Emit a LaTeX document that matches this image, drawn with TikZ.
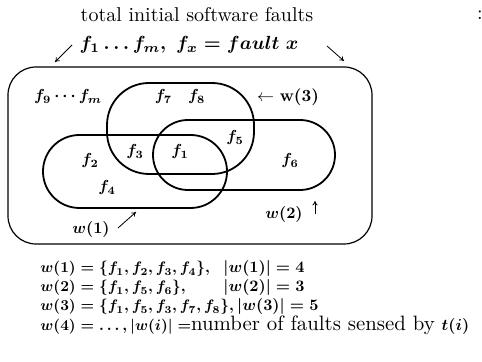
\documentclass[tikz,border=0pt]{standalone}
\usetikzlibrary{arrows.meta}
\newcommand\mth[1]{\scalebox{0.8}{\boldmath$#1$}}
\newcommand\meq[1]{\scalebox{0.76}{\boldmath$#1$}}
\newcommand\mthbig[1]{\scalebox{0.95}{\boldmath$#1$}}
\begin{document}
\begin{tikzpicture}[x=0.5pt,y=-0.5pt,
  every node/.style={inner sep=0pt},
  setline/.style={draw, line width=0.9pt},
  outline/.style={draw, line width=0.6pt},
  arr/.style={-{To[length=2.2pt,width=2.6pt]}, line width=0.4pt}]
\useasboundingbox (0,0) rectangle (482,362);
% sets
\node[outline, rounded corners=14pt, minimum width=182pt, minimum height=88.5pt] (univ) at (190,155.5) {};
\node[setline, rounded corners=21pt, minimum width=73.5pt, minimum height=45.5pt] (w3) at (180.5,128.5) {};
\node[setline, rounded corners=17.5pt, minimum width=91pt, minimum height=35pt] (w2) at (244,155) {};
\node[setline, rounded corners=18.2pt, minimum width=92pt, minimum height=36.5pt] (w1) at (135,171.5) {};
% header
\node (title) at (197,15) {total initial software faults};
\node (colon) at (480,15) {:};
\node (faults) at (189,45) {\mthbig{f_1\ldots f_m,\ f_x = fault\ x}};
\coordinate (la1) at (72,45); \coordinate (la2) at (55,62);
\coordinate (ra1) at (327,46); \coordinate (ra2) at (344,61);
\draw[arr] (la1) -- (la2);
\draw[arr] (ra1) -- (ra2);
% labels inside
\node (f9) at (68,97) {\mth{f_9\cdots f_m}};
\node (f78) at (180,97) {\mth{f_7\quad f_8}};
\node (w3lbl) at (288,97) {\scalebox{0.85}{$\leftarrow$ \textbf{w(3)}}};
\node (f5) at (235,138) {\mth{f_5}};
\node (f3) at (135,152) {\mth{f_3}};
\node (f1) at (180,152) {\mth{f_1}};
\node (f2) at (90,161) {\mth{f_2}};
\node (f4) at (107,188) {\mth{f_4}};
\node (f6) at (290,161) {\mth{f_6}};
\node (w1lbl) at (91,230) {\mth{w(1)}};
\coordinate (a1s) at (118,228); \coordinate (a1e) at (136,212);
\draw[arr] (a1s) -- (a1e);
\node (w2lbl) at (284,215) {\mth{w(2)}};
\coordinate (a2s) at (315,214); \coordinate (a2e) at (315,201);
\draw[arr] (a2s) -- (a2e);
% equations
\node[anchor=base west] (eq1) at (40,273) {\meq{w(1) = \{f_1, f_2, f_3, f_4\},}};
\node[anchor=base west] (n1) at (223,273) {\mth{|w(1)| = 4}};
\node[anchor=base west] (eq2) at (40,292) {\meq{w(2) = \{f_1, f_5, f_6\},}};
\node[anchor=base west] (n2) at (223,292) {\mth{|w(2)| = 3}};
\node[anchor=base west] (eq3) at (40,311) {\meq{w(3) = \{f_1, f_5, f_3, f_7, f_8\},}\,\mth{|w(3)| = 5}};
\node[anchor=base west] (eq4) at (40,331) {\meq{w(4) = \ldots, |w(i)| =}{\fontsize{10.4}{12}\selectfont number of faults sensed by }\mth{t(i)}};
\end{tikzpicture}
\end{document}
